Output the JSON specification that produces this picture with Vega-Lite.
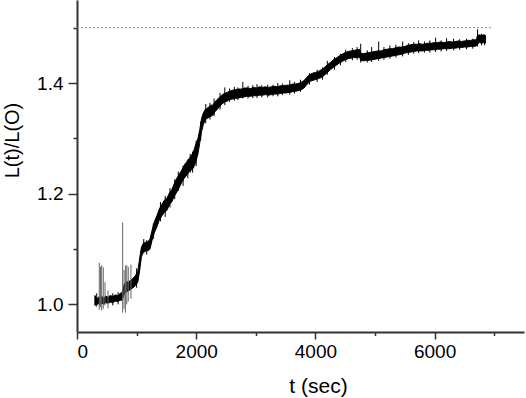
{
  "$schema": "https://vega.github.io/schema/vega-lite/v6.json",
  "width": 447,
  "height": 332,
  "autosize": {"type": "none"},
  "padding": {"left": 77, "top": 0, "right": 2, "bottom": 66},
  "background": "white",
  "config": {
    "view": {"stroke": null},
    "font": "Liberation Sans",
    "axis": {
      "grid": false,
      "domainColor": "#333",
      "domainWidth": 2,
      "tickColor": "#333",
      "tickWidth": 1.5,
      "labelColor": "black",
      "titleColor": "black",
      "labelFont": "Liberation Sans",
      "titleFont": "Liberation Sans",
      "labelFontSize": 19,
      "titleFontSize": 21,
      "titleFontWeight": "normal"
    }
  },
  "datasets": {
    "band": [
      {"t":300,"lo":0.998,"hi":1.016},{"t":330,"lo":1.000,"hi":1.010},{"t":360,"lo":1.001,"hi":1.013},{"t":390,"lo":0.999,"hi":1.012},
      {"t":420,"lo":1.002,"hi":1.014},{"t":450,"lo":1.000,"hi":1.011},{"t":480,"lo":1.003,"hi":1.015},{"t":520,"lo":1.002,"hi":1.013},
      {"t":560,"lo":1.004,"hi":1.016},{"t":600,"lo":1.003,"hi":1.014},{"t":640,"lo":1.006,"hi":1.017},{"t":680,"lo":1.005,"hi":1.016},
      {"t":720,"lo":1.007,"hi":1.019},{"t":760,"lo":1.008,"hi":1.022},{"t":790,"lo":1.018,"hi":1.036},{"t":820,"lo":1.022,"hi":1.040},
      {"t":860,"lo":1.024,"hi":1.041},{"t":900,"lo":1.027,"hi":1.043},{"t":940,"lo":1.030,"hi":1.047},{"t":980,"lo":1.034,"hi":1.052},
      {"t":1020,"lo":1.040,"hi":1.060},{"t":1050,"lo":1.060,"hi":1.082},{"t":1080,"lo":1.085,"hi":1.103},{"t":1110,"lo":1.095,"hi":1.110},
      {"t":1150,"lo":1.096,"hi":1.112},{"t":1190,"lo":1.097,"hi":1.113},{"t":1225,"lo":1.100,"hi":1.118},{"t":1260,"lo":1.116,"hi":1.134},
      {"t":1300,"lo":1.130,"hi":1.150},{"t":1340,"lo":1.140,"hi":1.160},{"t":1380,"lo":1.152,"hi":1.172},{"t":1425,"lo":1.160,"hi":1.181},
      {"t":1465,"lo":1.166,"hi":1.188},{"t":1510,"lo":1.170,"hi":1.192},{"t":1550,"lo":1.180,"hi":1.201},{"t":1590,"lo":1.185,"hi":1.207},
      {"t":1630,"lo":1.195,"hi":1.218},{"t":1675,"lo":1.203,"hi":1.228},{"t":1720,"lo":1.212,"hi":1.236},{"t":1760,"lo":1.221,"hi":1.243},
      {"t":1800,"lo":1.228,"hi":1.252},{"t":1845,"lo":1.234,"hi":1.258},{"t":1885,"lo":1.240,"hi":1.264},{"t":1925,"lo":1.243,"hi":1.270},
      {"t":1960,"lo":1.248,"hi":1.278},{"t":1995,"lo":1.258,"hi":1.290},{"t":2030,"lo":1.272,"hi":1.300},{"t":2060,"lo":1.292,"hi":1.316},
      {"t":2090,"lo":1.312,"hi":1.336},{"t":2120,"lo":1.325,"hi":1.346},{"t":2150,"lo":1.333,"hi":1.352},{"t":2180,"lo":1.336,"hi":1.354},
      {"t":2215,"lo":1.338,"hi":1.357},{"t":2250,"lo":1.340,"hi":1.360},{"t":2280,"lo":1.342,"hi":1.360},{"t":2315,"lo":1.348,"hi":1.366},
      {"t":2350,"lo":1.352,"hi":1.370},{"t":2390,"lo":1.357,"hi":1.374},{"t":2430,"lo":1.362,"hi":1.378},{"t":2470,"lo":1.365,"hi":1.381},
      {"t":2515,"lo":1.367,"hi":1.383},{"t":2560,"lo":1.370,"hi":1.385},{"t":2610,"lo":1.371,"hi":1.387},{"t":2660,"lo":1.372,"hi":1.388},
      {"t":2710,"lo":1.373,"hi":1.389},{"t":2760,"lo":1.374,"hi":1.389},{"t":2810,"lo":1.375,"hi":1.391},{"t":2860,"lo":1.376,"hi":1.391},
      {"t":2910,"lo":1.376,"hi":1.390},{"t":2960,"lo":1.377,"hi":1.392},{"t":3010,"lo":1.377,"hi":1.391},{"t":3060,"lo":1.378,"hi":1.393},
      {"t":3110,"lo":1.378,"hi":1.392},{"t":3160,"lo":1.379,"hi":1.393},{"t":3210,"lo":1.378,"hi":1.392},{"t":3260,"lo":1.379,"hi":1.393},
      {"t":3310,"lo":1.380,"hi":1.394},{"t":3360,"lo":1.380,"hi":1.393},{"t":3410,"lo":1.381,"hi":1.395},{"t":3460,"lo":1.382,"hi":1.395},
      {"t":3510,"lo":1.382,"hi":1.396},{"t":3560,"lo":1.383,"hi":1.396},{"t":3610,"lo":1.384,"hi":1.398},{"t":3660,"lo":1.385,"hi":1.398},
      {"t":3710,"lo":1.386,"hi":1.399},{"t":3760,"lo":1.388,"hi":1.401},{"t":3800,"lo":1.390,"hi":1.404},{"t":3840,"lo":1.395,"hi":1.408},
      {"t":3880,"lo":1.400,"hi":1.413},{"t":3920,"lo":1.403,"hi":1.416},{"t":3960,"lo":1.405,"hi":1.418},{"t":4000,"lo":1.406,"hi":1.419},
      {"t":4050,"lo":1.408,"hi":1.421},{"t":4100,"lo":1.410,"hi":1.424},{"t":4150,"lo":1.414,"hi":1.428},{"t":4200,"lo":1.419,"hi":1.433},
      {"t":4250,"lo":1.424,"hi":1.437},{"t":4300,"lo":1.428,"hi":1.442},{"t":4350,"lo":1.432,"hi":1.445},{"t":4400,"lo":1.436,"hi":1.449},
      {"t":4450,"lo":1.439,"hi":1.452},{"t":4500,"lo":1.442,"hi":1.455},{"t":4550,"lo":1.444,"hi":1.457},{"t":4600,"lo":1.445,"hi":1.458},
      {"t":4650,"lo":1.446,"hi":1.459},{"t":4700,"lo":1.446,"hi":1.460},{"t":4740,"lo":1.447,"hi":1.461},{"t":4760,"lo":1.441,"hi":1.454},
      {"t":4800,"lo":1.440,"hi":1.453},{"t":4850,"lo":1.441,"hi":1.454},{"t":4900,"lo":1.441,"hi":1.455},{"t":4950,"lo":1.442,"hi":1.456},
      {"t":5000,"lo":1.443,"hi":1.457},{"t":5050,"lo":1.444,"hi":1.458},{"t":5100,"lo":1.445,"hi":1.458},{"t":5150,"lo":1.446,"hi":1.460},
      {"t":5200,"lo":1.447,"hi":1.461},{"t":5250,"lo":1.448,"hi":1.462},{"t":5300,"lo":1.449,"hi":1.462},{"t":5350,"lo":1.450,"hi":1.464},
      {"t":5400,"lo":1.451,"hi":1.465},{"t":5450,"lo":1.452,"hi":1.465},{"t":5500,"lo":1.454,"hi":1.466},{"t":5550,"lo":1.455,"hi":1.468},
      {"t":5600,"lo":1.456,"hi":1.469},{"t":5650,"lo":1.457,"hi":1.470},{"t":5700,"lo":1.458,"hi":1.470},{"t":5750,"lo":1.458,"hi":1.471},
      {"t":5800,"lo":1.458,"hi":1.470},{"t":5850,"lo":1.459,"hi":1.471},{"t":5900,"lo":1.459,"hi":1.472},{"t":5950,"lo":1.460,"hi":1.472},
      {"t":6000,"lo":1.460,"hi":1.473},{"t":6050,"lo":1.461,"hi":1.473},{"t":6100,"lo":1.461,"hi":1.474},{"t":6150,"lo":1.462,"hi":1.473},
      {"t":6200,"lo":1.462,"hi":1.474},{"t":6250,"lo":1.462,"hi":1.475},{"t":6300,"lo":1.463,"hi":1.474},{"t":6350,"lo":1.463,"hi":1.475},
      {"t":6400,"lo":1.464,"hi":1.476},{"t":6450,"lo":1.464,"hi":1.475},{"t":6500,"lo":1.465,"hi":1.476},{"t":6550,"lo":1.465,"hi":1.477},
      {"t":6600,"lo":1.466,"hi":1.477},{"t":6650,"lo":1.466,"hi":1.478},{"t":6700,"lo":1.467,"hi":1.478},{"t":6720,"lo":1.470,"hi":1.486},
      {"t":6750,"lo":1.473,"hi":1.487},{"t":6790,"lo":1.472,"hi":1.486},{"t":6820,"lo":1.473,"hi":1.487},{"t":6855,"lo":1.472,"hi":1.486}
    ],
    "thin": [
      {"t":374,"a":0.990,"b":1.075},{"t":395,"a":0.995,"b":1.068},{"t":414,"a":0.989,"b":1.071},{"t":441,"a":0.992,"b":1.067},
      {"t":470,"a":0.998,"b":1.040},{"t":520,"a":0.993,"b":1.025},{"t":766,"a":0.985,"b":1.148},{"t":790,"a":0.992,"b":1.062},
      {"t":812,"a":0.985,"b":1.070},{"t":835,"a":1.000,"b":1.071},{"t":860,"a":1.005,"b":1.068},{"t":905,"a":1.010,"b":1.072}
    ],
    "fringe": [
      {"t":330,"a":0.996,"b":1.020},{"t":600,"a":0.998,"b":1.020},{"t":690,"a":1.000,"b":1.022},
      {"t":1000,"a":1.030,"b":1.065},{"t":1120,"a":1.092,"b":1.118},{"t":1170,"a":1.090,"b":1.116},{"t":1280,"a":1.118,"b":1.146},
      {"t":1400,"a":1.150,"b":1.185},{"t":1480,"a":1.158,"b":1.196},{"t":1560,"a":1.175,"b":1.210},{"t":1640,"a":1.190,"b":1.226},
      {"t":1700,"a":1.205,"b":1.240},{"t":1780,"a":1.214,"b":1.250},{"t":1860,"a":1.228,"b":1.262},{"t":1900,"a":1.238,"b":1.272},
      {"t":1940,"a":1.238,"b":1.276},{"t":2000,"a":1.250,"b":1.296},{"t":2075,"a":1.296,"b":1.330},{"t":2160,"a":1.327,"b":1.362},
      {"t":2230,"a":1.334,"b":1.364},{"t":2300,"a":1.340,"b":1.372},{"t":2400,"a":1.352,"b":1.382},{"t":2480,"a":1.360,"b":1.392},
      {"t":2560,"a":1.366,"b":1.390},{"t":2640,"a":1.368,"b":1.393},{"t":2700,"a":1.369,"b":1.392},{"t":2782,"a":1.372,"b":1.402},
      {"t":2870,"a":1.372,"b":1.395},{"t":2950,"a":1.373,"b":1.396},{"t":3020,"a":1.373,"b":1.398},{"t":3100,"a":1.374,"b":1.396},
      {"t":3200,"a":1.374,"b":1.397},{"t":3290,"a":1.376,"b":1.397},{"t":3369,"a":1.376,"b":1.400},{"t":3450,"a":1.378,"b":1.399},
      {"t":3570,"a":1.379,"b":1.405},{"t":3650,"a":1.381,"b":1.402},{"t":3750,"a":1.384,"b":1.406},{"t":3900,"a":1.397,"b":1.418},
      {"t":4030,"a":1.402,"b":1.424},{"t":4120,"a":1.406,"b":1.428},{"t":4200,"a":1.415,"b":1.440},{"t":4320,"a":1.424,"b":1.447},
      {"t":4420,"a":1.432,"b":1.453},{"t":4508,"a":1.438,"b":1.460},{"t":4620,"a":1.441,"b":1.463},{"t":4700,"a":1.442,"b":1.465},
      {"t":4760,"a":1.437,"b":1.471},{"t":4870,"a":1.437,"b":1.459},{"t":4944,"a":1.438,"b":1.465},{"t":5062,"a":1.440,"b":1.475},
      {"t":5150,"a":1.442,"b":1.465},{"t":5250,"a":1.444,"b":1.468},{"t":5350,"a":1.446,"b":1.469},{"t":5464,"a":1.448,"b":1.475},
      {"t":5560,"a":1.451,"b":1.472},{"t":5650,"a":1.453,"b":1.474},{"t":5732,"a":1.454,"b":1.477},{"t":5830,"a":1.455,"b":1.475},
      {"t":5920,"a":1.455,"b":1.477},{"t":6017,"a":1.456,"b":1.482},{"t":6110,"a":1.457,"b":1.477},{"t":6201,"a":1.458,"b":1.481},
      {"t":6318,"a":1.459,"b":1.480},{"t":6420,"a":1.460,"b":1.479},{"t":6536,"a":1.461,"b":1.480},{"t":6640,"a":1.462,"b":1.480},
      {"t":6721,"a":1.466,"b":1.497},{"t":6788,"a":1.468,"b":1.489},{"t":6838,"a":1.468,"b":1.487}
    ],
    "ref": [{"x0":0,"x1":6970,"y":1.5}]
  },
  "layer": [
    {
      "data": {"name": "band"},
      "mark": {"type": "area", "color": "black", "stroke": "black", "strokeWidth": 1},
      "encoding": {
        "x": {"field": "t", "type": "quantitative", "scale": {"domain": [0, 7500], "nice": false, "zero": false},
          "axis": {"values": [0, 2000, 4000, 6000], "format": "d", "tickSize": 7, "labelPadding": 3, "title": "t (sec)",
            "titleX": 241, "titleY": 60, "titleBaseline": "alphabetic", "titleAnchor": null, "titleAlign": "center"}},
        "y": {"field": "lo", "type": "quantitative", "scale": {"domain": [0.95, 1.55], "nice": false, "zero": false},
          "axis": {"values": [1.0, 1.2, 1.4], "format": ".1f", "tickSize": 9, "labelPadding": 5, "title": "L(t)/L(O)",
            "titleFontSize": 20, "titleX": -65, "titleY": 140, "titleAngle": -90, "titleBaseline": "middle", "titleAlign": "center", "titleAnchor": null}},
        "y2": {"field": "hi"}
      }
    },
    {
      "data": {"name": "thin"},
      "mark": {"type": "rule", "color": "#666", "strokeWidth": 1},
      "encoding": {
        "x": {"field": "t", "type": "quantitative", "axis": {"orient": "bottom", "values": [1000, 3000, 5000, 7000], "labels": false, "domain": false, "tickSize": 3.5, "title": null}},
        "y": {"field": "a", "type": "quantitative", "axis": {"orient": "left", "values": [1.1, 1.3, 1.5], "labels": false, "domain": false, "tickSize": 4, "title": null}},
        "y2": {"field": "b"}
      }
    },
    {
      "data": {"name": "fringe"},
      "mark": {"type": "rule", "color": "black", "strokeWidth": 1},
      "encoding": {
        "x": {"field": "t", "type": "quantitative", "axis": null},
        "y": {"field": "a", "type": "quantitative", "axis": null},
        "y2": {"field": "b"}
      }
    },
    {
      "data": {"name": "ref"},
      "mark": {"type": "rule", "color": "#888", "strokeWidth": 1, "strokeDash": [2, 2]},
      "encoding": {
        "x": {"field": "x0", "type": "quantitative", "axis": null},
        "x2": {"field": "x1"},
        "y": {"field": "y", "type": "quantitative", "axis": null}
      }
    }
  ],
  "resolve": {"axis": {"x": "independent", "y": "independent"}}
}
